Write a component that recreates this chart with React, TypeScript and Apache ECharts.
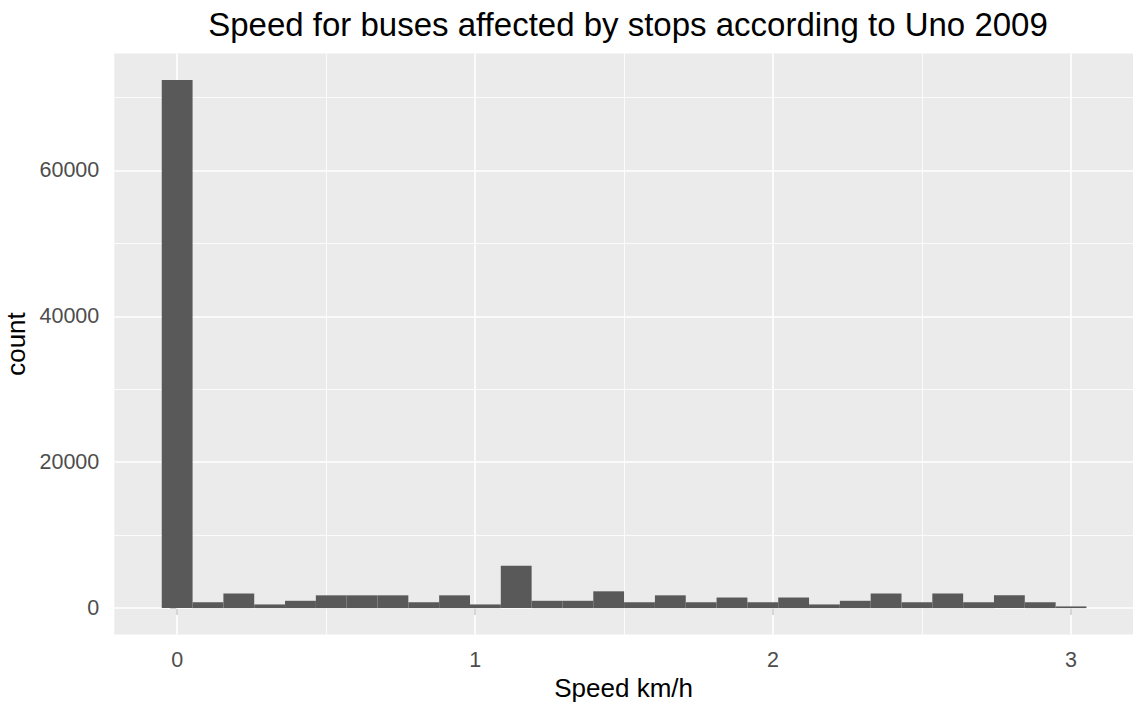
import React, { useEffect, useRef } from "react";
import * as echarts from "echarts";

const titleText = "Speed for buses affected by stops according to Uno 2009";
const xName = "Speed km/h";
const yName = "count";

// histogram bin centres (km/h) and counts, 30 bins
const binCenters = [
  0, 0.1034, 0.2069, 0.3103, 0.4138, 0.5172, 0.6207, 0.7241, 0.8276, 0.931,
  1.0345, 1.1379, 1.2414, 1.3448, 1.4483, 1.5517, 1.6552, 1.7586, 1.8621, 1.9655,
  2.069, 2.1724, 2.2759, 2.3793, 2.4828, 2.5862, 2.6897, 2.7931, 2.8966, 3.0,
];
const binWidth = 0.10345;
const counts = [
  72400, 800, 2000, 500, 1000, 1750, 1750, 1750, 800, 1750,
  500, 5800, 1000, 1000, 2300, 800, 1750, 800, 1450, 800,
  1450, 500, 1000, 2000, 800, 2000, 800, 1750, 800, 230,
];

const xMajor = [0, 1, 2, 3];
const xMinor = [0.5, 1.5, 2.5];
const yMajor = [0, 20000, 40000, 60000];
const yMinor = [10000, 30000, 50000, 70000];

const FONT = "'Liberation Sans', Arial, sans-serif";

export default function App() {
  const ref = useRef<HTMLDivElement>(null);
  useEffect(() => {
    if (!ref.current) return;
    const chart = echarts.init(ref.current, null, { renderer: "svg" });
    const data = binCenters.map((c, i) => [c, counts[i]]);
    const gridLines = [
      ...xMajor.map((v) => ({ xAxis: v, lineStyle: { color: "#FFFFFF", width: 1.6, type: "solid" } })),
      ...xMinor.map((v) => ({ xAxis: v, lineStyle: { color: "#FFFFFF", width: 0.8, type: "solid" } })),
      ...yMajor.map((v) => ({ yAxis: v, lineStyle: { color: "#FFFFFF", width: 1.6, type: "solid" } })),
      ...yMinor.map((v) => ({ yAxis: v, lineStyle: { color: "#FFFFFF", width: 0.8, type: "solid" } })),
    ];
    chart.setOption({
      animation: false,
      title: {
        text: titleText,
        left: 623,
        textAlign: "center",
        top: 3,
        textStyle: { fontFamily: FONT, fontSize: 33, fontWeight: "normal", color: "#000000" },
      },
      grid: {
        left: 114.3,
        right: 0,
        top: 53.5,
        bottom: 69.5,
        show: true,
        backgroundColor: "#EBEBEB",
        borderWidth: 0,
        containLabel: false,
        outerBoundsMode: "none",
      },
      xAxis: {
        type: "value",
        min: -0.211,
        max: 3.208,
        name: xName,
        nameLocation: "middle",
        nameGap: 40,
        nameTextStyle: { fontFamily: FONT, fontSize: 26, color: "#000000" },
        axisLine: { show: false },
        splitLine: { show: false },
        axisTick: { show: true, customValues: xMajor, length: 7, lineStyle: { color: "#333333", width: 2 } },
        axisLabel: {
          customValues: xMajor,
          margin: 14,
          fontFamily: FONT,
          fontSize: 21.5,
          color: "#4D4D4D",
          formatter: (v: number) => String(v),
        },
      },
      yAxis: {
        type: "value",
        min: -3620,
        max: 76020,
        name: yName,
        nameLocation: "middle",
        nameGap: 80,
        nameRotate: 90,
        nameTextStyle: { fontFamily: FONT, fontSize: 26, color: "#000000" },
        axisLine: { show: false },
        splitLine: { show: false },
        axisTick: { show: true, customValues: yMajor, length: 7, lineStyle: { color: "#333333", width: 2 } },
        axisLabel: {
          customValues: yMajor,
          margin: 15,
          fontFamily: FONT,
          fontSize: 21.5,
          color: "#4D4D4D",
          formatter: (v: number) => String(v),
        },
      },
      series: [
        {
          type: "custom",
          z: 3,
          data,
          renderItem: (params: any, api: any) => {
            const c = api.value(0);
            const v = api.value(1);
            const p0 = api.coord([c - binWidth / 2, v]);
            const p1 = api.coord([c + binWidth / 2, 0]);
            return {
              type: "rect",
              shape: { x: p0[0], y: p0[1], width: p1[0] - p0[0], height: p1[1] - p0[1] },
              style: { fill: "#595959" },
            };
          },
          markLine: {
            silent: true,
            z: 1,
            symbol: ["none", "none"],
            label: { show: false },
            emphasis: { disabled: true },
            data: gridLines,
          },
        },
      ],
    });
    return () => chart.dispose();
  }, []);
  return (
    <div
      ref={ref}
      style={{ position: "fixed", left: 0, top: 0, width: 1133, height: 704, background: "#FFFFFF" }}
    />
  );
}
